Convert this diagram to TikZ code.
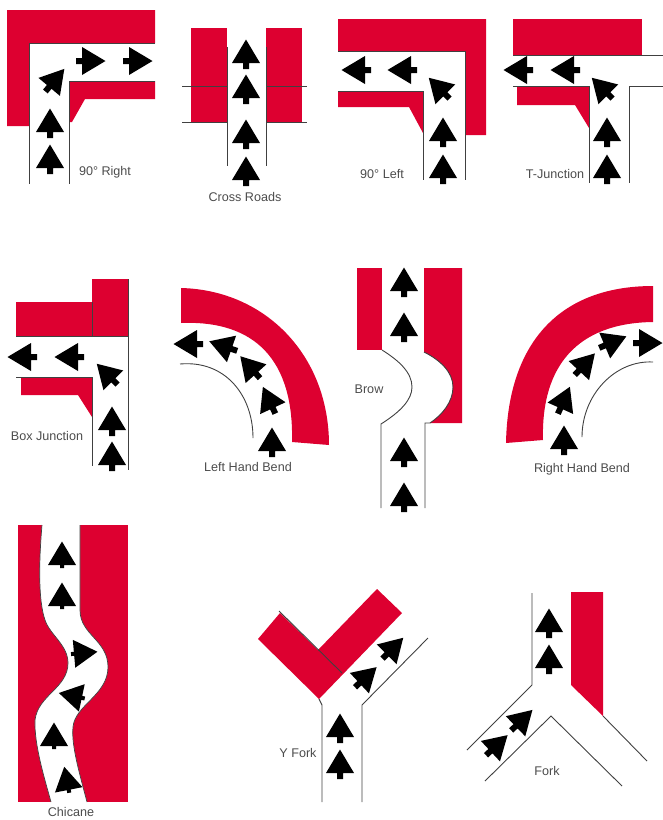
\documentclass[tikz,border=0pt]{standalone}
\usepackage{fontspec}
\setmainfont{Liberation Sans}
\definecolor{roadred}{RGB}{221,0,48}
\tikzset{
    redpart/.style={fill=roadred},
    roadline/.style={draw=black!75, line width=.9pt},
    signtext/.style={text=black!70, font=\fontsize{12.6}{14}\selectfont, inner sep=0pt},
    roadmark/.pic={\fill[black](0,-14.5)--(14,9)--(3,9)--(3,15)--(-3,15)--(-3,9)--(-14,9)--cycle;},
    shortmark/.pic={\fill[black](0,-14.5)--(14,9)--(2,9)--(2,12)--(-2,12)--(-2,9)--(-14,9)--cycle;}
}
\begin{document}
\begin{tikzpicture}[x=1pt, y=-1pt]
\useasboundingbox(0,0)rectangle(663,820);

\fill[redpart](7,10)--(155,10)--(155,43)--(29,43)--(29,126)--(7,126)--cycle;
\fill[redpart](69,81)--(155,81)--(155,99)--(85,99)--(72,122)--(69,122)--cycle;
\draw[roadline](155,43)--(29,43)--(29,184);
\draw[roadline](155,81)--(69,81)--(69,184);
\node[signtext](rightlabel) at (105,172){90° Right};

\fill[redpart](191,28)rectangle(227,122);
\fill[redpart](266,28)rectangle(302,122);
\draw[roadline](182,86)--(227,86);
\draw[roadline](266,86)--(307,86);
\draw[roadline](182,122)--(227,122);
\draw[roadline](266,122)--(307,122);
\draw[roadline](227,47)--(227,166);
\draw[roadline](266,47)--(266,166);
\node[signtext](crosslabel) at (245,197){Cross Roads};

\fill[redpart](338,19)--(486,19)--(486,135)--(465,135)--(465,51)--(338,51)--cycle;
\fill[redpart](338,91)--(423,91)--(423,133)--(409,107)--(338,107)--cycle;
\draw[roadline](338,51)--(465,51)--(465,180);
\draw[roadline](338,91)--(423,91)--(423,180);
\node[signtext](leftlabel) at (382,174){90° Left};

\fill[redpart](513,19)rectangle(642,55);
\fill[redpart](517,86)--(589,86)--(589,128)--(575,105)--(517,105)--cycle;
\draw[roadline](513,55)--(663,55);
\draw[roadline](513,86)--(589,86)--(589,183);
\draw[roadline](663,86)--(629,86)--(629,183);
\node[signtext](tlabel) at (555,174){T-Junction};

\fill[redpart](16,302)rectangle(92,336);
\fill[redpart](92,279)rectangle(128,336);
\fill[redpart](21,377)--(92,377)--(92,417)--(78,395)--(21,395)--cycle;
\draw[roadline](92,302)--(92,336);
\draw[roadline](16,336)--(128,336);
\draw[roadline](128,279)--(128,470);
\draw[roadline](16,377)--(92,377)--(92,466);
\node[signtext](boxlabel) at (47,436){Box Junction};

\fill[redpart](181,288)..controls(265,290)and(329,355)..(329,445)--(292,442)..controls(294,360)and(255,320)..(181,323)--cycle;
\draw[roadline](180,364)..controls(225,360)and(253,395)..(253,438);
\node[signtext](lefthand) at (248,467){Left Hand Bend};

\fill[redpart](357,268)rectangle(382,350);
\fill[redpart](424,268)--(462,268)--(462,423)--(430,423)..controls(442,415)and(453,402)..(453,387)..controls(453,372)and(440,360)..(424,352)--cycle;
\draw[roadline](381,508)--(381,424)..controls(400,412)and(412,400)..(412,387)..controls(412,372)and(398,360)..(382,350);
\draw[roadline](425,508)--(425,423)--(430,423)..controls(442,415)and(453,402)..(453,387)..controls(453,372)and(440,360)..(424,352);
\node[signtext](browlabel) at (369,389){Brow};

\fill[redpart](653,286)..controls(562,286)and(508,340)..(506,443)--(543,440)..controls(541,365)and(578,323)..(653,322)--cycle;
\draw[roadline](653,362)..controls(615,360)and(582,395)..(582,437);
\node[signtext](righthand) at (582,469){Right Hand Bend};

\fill[redpart](18,525)rectangle(128,802);
\fill[white](42,525)..controls(39,560)and(38,600)..(45,620)
    ..controls(50,635)and(68,645)..(68,663)..controls(68,688)and(38,695)..(35,720)
    ..controls(34,745)and(45,780)..(51,802)--(87,802)..controls(80,775)and(71,745)..(73,727)
    ..controls(75,705)and(108,695)..(108,667)..controls(108,640)and(80,635)..(80,610)--(80,525)--cycle;
\draw[draw=black!75, line width=.7pt](42,525)..controls(39,560)and(38,600)..(45,620)
    ..controls(50,635)and(68,645)..(68,663)..controls(68,688)and(38,695)..(35,720)
    ..controls(34,745)and(45,780)..(51,802);
\draw[draw=black!75, line width=.7pt](87,802)..controls(80,775)and(71,745)..(73,727)
    ..controls(75,705)and(108,695)..(108,667)..controls(108,640)and(80,635)..(80,610)--(80,525);
\node[signtext](chicanelabel) at (71,812){Chicane};

\fill[redpart](280,613)--(318,650)--(377,589)--(402,613)--(319,699)--(258,639)--cycle;
\draw[roadline](279,611)--(342,673);
\draw[roadline](322,802)--(322,705)--(319,699);
\draw[roadline](362,802)--(362,705)--(428,638);
\node[signtext](yforklabel) at (298,753){Y Fork};

\fill[redpart](571,592)--(603,592)--(603,716)--(571,685)--cycle;
\draw[roadline](532,593)--(532,685)--(467,750);
\draw[roadline](485,781)--(551,716)--(622,786);
\draw[roadline](603,716)--(647,761);
\node[signtext](forklabel) at (547,771){Fork};

\foreach \x/\y/\r in {50/159/0,50/123/0,55/80/-40,91/61/-90,138/61/-90,
    246/54/0,246/89/0,246/134/0,246/171/0,
    443/132/0,443/169/0,439/88/45,402/70/90,356/70/90,
    607/132/0,607/169/0,602/88/45,565/70/90,518/70/90,
    112/421/0,112/456/0,107/374/45,69/357/90,22/357/90,
    272/442/0,269/400/25,250/367/42,223/346/71,188/344/90,
    404/282/0,404/327/0,404/452/0,404/497/0,
    564/440/0,564/400/-24,585/364/-43,613/342/-67,648/343/-90,
    340/728/0,340/764/0,366/677/-47,393/648/-45,
    549/623/0,549/659/0,497/745/-47,522/720/-46}
{
    \pic[rotate=\r] at (\x,\y) {roadmark};
}
\foreach \x/\y/\r in {62/556/0,62/597/0,83/653/-85,73/696/78,54/737/0,67/781/11}
{
    \pic[rotate=\r] at (\x,\y) {shortmark};
}

\end{tikzpicture}
\end{document}
